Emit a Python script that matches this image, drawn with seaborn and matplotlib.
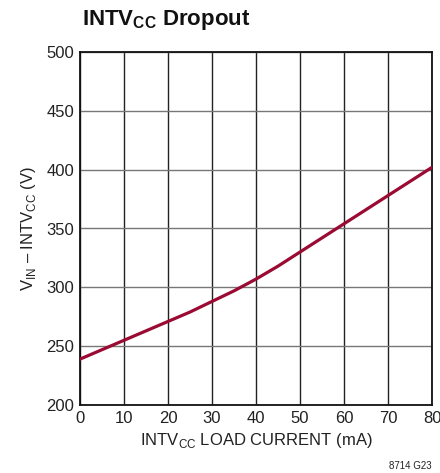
import matplotlib
matplotlib.use("Agg")
import matplotlib.pyplot as plt
import seaborn as sns
import pandas as pd

load_current_ma = [0, 5, 10, 15, 20, 25, 30, 35, 40, 45, 50, 55, 60, 65, 70, 75, 80]
dropout_mv = [239, 247, 255, 263, 271, 279, 288, 297, 307, 318, 330, 342, 354, 366, 378, 390, 402]
x_ticks = [0, 10, 20, 30, 40, 50, 60, 70, 80]
y_ticks = [200, 250, 300, 350, 400, 450, 500]

sns.set_theme(style="white")
plt.rcParams['font.family'] = ['Liberation Sans', 'DejaVu Sans']
plt.rcParams['mathtext.fontset'] = 'custom'
plt.rcParams['mathtext.rm'] = 'Liberation Sans'
plt.rcParams['mathtext.bf'] = 'Liberation Sans:bold'

df = pd.DataFrame({"x": load_current_ma, "y": dropout_mv})

fig = plt.figure(figsize=(4.4, 4.73), dpi=100)
ax = fig.add_axes([80/440, 68/473, 352/440, 353/473])

for xv in x_ticks:
    ax.axvline(xv, color="#222222", lw=1.0, zorder=1)
for yv in y_ticks:
    ax.axhline(yv, color="#777777", lw=1.0, zorder=1)

sns.lineplot(data=df, x="x", y="y", ax=ax, color="#9a0a32", lw=2.3, zorder=3)

ax.set_xlim(0, 80)
ax.set_ylim(200, 500)
ax.set_xticks(x_ticks)
ax.set_yticks(y_ticks)
ax.tick_params(axis="both", labelsize=12, length=0, pad=4, colors="#222222")
for s in ax.spines.values():
    s.set_color("#111111")
    s.set_linewidth(1.3)

ax.set_xlabel(r"INTV$_{\mathregular{CC}}$ LOAD CURRENT (mA)", fontsize=12, color="#222222", labelpad=4)
ax.set_ylabel(r"V$_{\mathregular{IN}}$ – INTV$_{\mathregular{CC}}$ (V)", fontsize=12, color="#222222", labelpad=6)

fig.text(82/440, 1 - 20/473, r"INTV$_{\mathbf{CC}}$ Dropout", fontsize=16, fontweight="bold",
         ha="left", va="center", color="#111111")
fig.text(432/440, 1 - 466/473, "8714 G23", fontsize=7, ha="right", va="center", color="#222222")

fig.savefig("out.png", dpi=100)
